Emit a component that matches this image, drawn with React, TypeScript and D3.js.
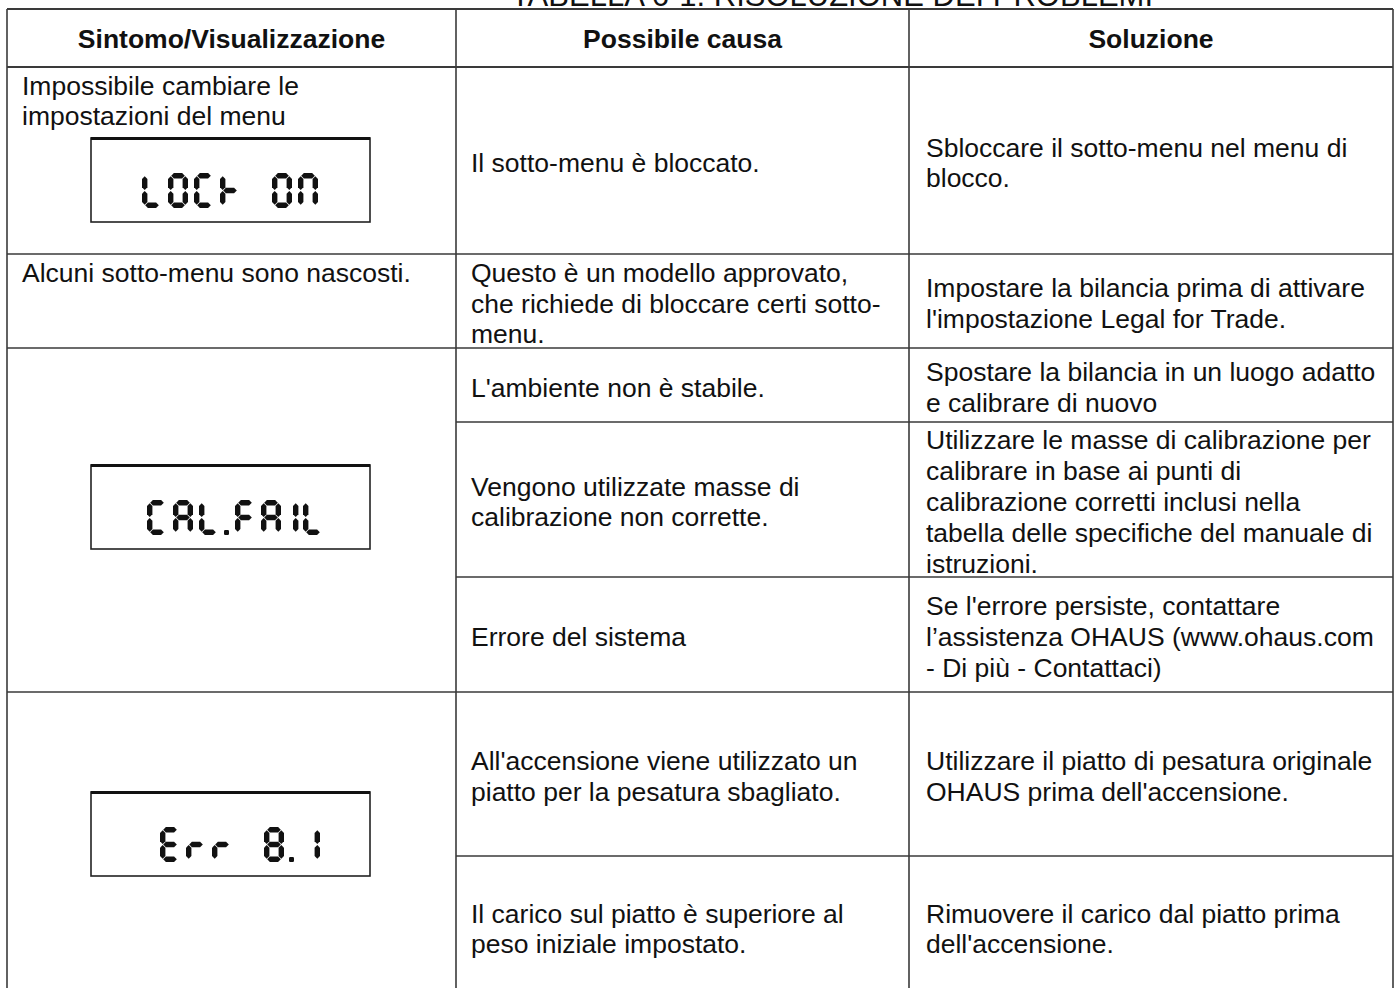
import React, { useEffect, useRef } from "react";
import * as d3 from "d3";

// ---- table content ----
const title = "TABELLA 6-1. RISOLUZIONE DEI PROBLEMI";
const headers = ["Sintomo/Visualizzazione", "Possibile causa", "Soluzione"];

const symptoms = [
  ["Impossibile cambiare le", "impostazioni del menu"],
  ["Alcuni sotto-menu sono nascosti."],
  [],
  [],
];
const displays = ["LOCK ON", "", "CAL.FAIL", "Err 8.1"];

const causes = [
  [["Il sotto-menu è bloccato."]],
  [["Questo è un modello approvato,", "che richiede di bloccare certi sotto-", "menu."]],
  [
    ["L'ambiente non è stabile."],
    ["Vengono utilizzate masse di", "calibrazione non corrette."],
    ["Errore del sistema"],
  ],
  [
    ["All'accensione viene utilizzato un", "piatto per la pesatura sbagliato."],
    ["Il carico sul piatto è superiore al", "peso iniziale impostato."],
  ],
];

const solutions = [
  [["Sbloccare il sotto-menu nel menu di", "blocco."]],
  [["Impostare la bilancia prima di attivare", "l'impostazione Legal for Trade."]],
  [
    ["Spostare la bilancia in un luogo adatto", "e calibrare di nuovo"],
    [
      "Utilizzare le masse di calibrazione per",
      "calibrare in base ai punti di",
      "calibrazione corretti inclusi nella",
      "tabella delle specifiche del manuale di",
      "istruzioni.",
    ],
    ["Se l'errore persiste, contattare", "l’assistenza OHAUS (www.ohaus.com", "- Di più - Contattaci)"],
  ],
  [
    ["Utilizzare il piatto di pesatura originale", "OHAUS prima dell'accensione."],
    ["Rimuovere il carico dal piatto prima", "dell'accensione."],
  ],
];

// ---- layout ----
const W = 1398;
const H = 988;
const colEdges = [7, 456, 909, 1393];
const headTop = 9;
const headBottom = 67;
// sub-row edges for each group (columns 2 and 3)
const groupEdges = [
  [67, 254],
  [254, 348],
  [348, 422, 577, 692],
  [692, 856, 997],
];
const lcdTop = [138, 0, 465, 792];
const lcdBox = { x0: 91, x1: 370, h: 84 };

const FONT = "'Liberation Sans', Arial, Helvetica, sans-serif";
const FS = 26.5;
const LH = 30.8;
const LINE = "#3a3a3a";

// ---- seven segment glyphs ----
const GW = 20;
const GH = 35;
const GT = 5.4;
const GG = 0.5;

const hSeg = (x0: number, x1: number, y: number) =>
  [
    [x0, y],
    [x0 + GT / 2, y - GT / 2],
    [x1 - GT / 2, y - GT / 2],
    [x1, y],
    [x1 - GT / 2, y + GT / 2],
    [x0 + GT / 2, y + GT / 2],
  ];
const vSeg = (x: number, y0: number, y1: number) =>
  [
    [x, y0],
    [x + GT / 2, y0 + GT / 2],
    [x + GT / 2, y1 - GT / 2],
    [x, y1],
    [x - GT / 2, y1 - GT / 2],
    [x - GT / 2, y0 + GT / 2],
  ];

const SEGS: Record<string, number[][]> = {
  a: hSeg(GT / 2 + GG, GW - GT / 2 - GG, GT / 2),
  g: hSeg(GT / 2 + GG, GW - GT / 2 - GG, GH / 2),
  d: hSeg(GT / 2 + GG, GW - GT / 2 - GG, GH - GT / 2),
  f: vSeg(GT / 2, GT / 2 + GG, GH / 2 - GG),
  e: vSeg(GT / 2, GH / 2 + GG, GH - GT / 2 - GG),
  b: vSeg(GW - GT / 2, GT / 2 + GG, GH / 2 - GG),
  c: vSeg(GW - GT / 2, GH / 2 + GG, GH - GT / 2 - GG),
};

const GLYPHS: Record<string, string> = {
  L: "def",
  O: "abcdef",
  C: "adef",
  K: "efg",
  N: "abcef",
  A: "abcefg",
  F: "aefg",
  I: "ef",
  E: "adefg",
  r: "eg",
  "8": "abcdefg",
  "1": "bc",
  " ": "",
};

const advanceOf = (ch: string) => (ch === "." ? 10 : ch === "I" ? 16 : 26);
const lcdStart = [142, 0, 147, 160];

const App = () => {
  const svgRef = useRef<SVGSVGElement | null>(null);

  useEffect(() => {
    const svg = d3.select(svgRef.current);
    svg.selectAll("*").remove();
    svg.attr("width", W).attr("height", H);

    svg.append("rect").attr("width", W).attr("height", H).attr("fill", "#fff");

    const g = svg.append("g").attr("font-family", FONT).attr("fill", "#111");

    // title (cut at top edge, as in the source page)
    g.append("text")
      .attr("x", 832)
      .attr("y", 6)
      .attr("text-anchor", "middle")
      .attr("font-size", 31)
      .text(title);

    const tableBottom = 997;
    const lines = g.append("g").attr("stroke", LINE).attr("stroke-width", 1.6).attr("fill", "none");

    // outer + column lines
    colEdges.forEach((x) => {
      lines.append("line").attr("x1", x).attr("x2", x).attr("y1", headTop).attr("y2", tableBottom);
    });
    lines.append("line").attr("x1", colEdges[0]).attr("x2", colEdges[3]).attr("y1", headTop).attr("y2", headTop).attr("stroke-width", 2.2);
    lines.append("line").attr("x1", colEdges[0]).attr("x2", colEdges[3]).attr("y1", headBottom).attr("y2", headBottom).attr("stroke-width", 2);

    // group and sub-row lines
    groupEdges.forEach((edges) => {
      const last = edges[edges.length - 1];
      lines.append("line").attr("x1", colEdges[0]).attr("x2", colEdges[3]).attr("y1", last).attr("y2", last);
      edges.slice(1, -1).forEach((y) => {
        lines.append("line").attr("x1", colEdges[1]).attr("x2", colEdges[3]).attr("y1", y).attr("y2", y);
      });
    });

    // headers
    headers.forEach((h, i) => {
      g.append("text")
        .attr("x", (colEdges[i] + colEdges[i + 1]) / 2)
        .attr("y", (headTop + headBottom) / 2 + 9.5)
        .attr("text-anchor", "middle")
        .attr("font-size", FS)
        .attr("font-weight", "bold")
        .text(h);
    });

    const centered = (x: number, y0: number, y1: number, ls: string[]) => {
      const c = (y0 + y1) / 2 + 2;
      ls.forEach((t, i) => {
        g.append("text")
          .attr("x", x)
          .attr("y", c + (i - (ls.length - 1) / 2) * LH + 9.5)
          .attr("font-size", FS)
          .text(t);
      });
    };

    groupEdges.forEach((edges, gi) => {
      // symptom text, top aligned
      symptoms[gi].forEach((t, i) => {
        g.append("text")
          .attr("x", colEdges[0] + 15)
          .attr("y", edges[0] + 18 + i * LH + 9.5)
          .attr("font-size", FS)
          .text(t);
      });
      causes[gi].forEach((ls, si) => centered(colEdges[1] + 15, edges[si], edges[si + 1], ls));
      solutions[gi].forEach((ls, si) => centered(colEdges[2] + 17, edges[si], edges[si + 1], ls));

      // LCD display
      const txt = displays[gi];
      if (!txt) return;
      const top = lcdTop[gi];
      const box = g.append("g");
      box.append("rect")
        .attr("x", lcdBox.x0)
        .attr("y", top)
        .attr("width", lcdBox.x1 - lcdBox.x0)
        .attr("height", lcdBox.h)
        .attr("fill", "#fff")
        .attr("stroke", "#222")
        .attr("stroke-width", 1.6);
      box.append("line")
        .attr("x1", lcdBox.x0)
        .attr("x2", lcdBox.x1)
        .attr("y1", top + 0.5)
        .attr("y2", top + 0.5)
        .attr("stroke", "#111")
        .attr("stroke-width", 3);

      const chars = txt.split("");
      const offsets = d3.cumsum([0, ...chars.map(advanceOf)]);
      const glyphY = top + 35;
      chars.forEach((ch, ci) => {
        const x = lcdStart[gi] + offsets[ci];
        const cg = box.append("g").attr("transform", `translate(${x},${glyphY})`).attr("fill", "#111");
        if (ch === ".") {
          cg.append("rect").attr("x", -1).attr("y", GH - 5).attr("width", 5).attr("height", 5).attr("rx", 1.2);
          return;
        }
        const segs = (GLYPHS[ch] ?? "").split("");
        const shift = ch === "I" ? 6 : 0;
        segs.forEach((s) => {
          cg.append("polygon")
            .attr("points", SEGS[s].map((p) => `${p[0] + shift},${p[1]}`).join(" "));
        });
      });
    });
  }, []);

  return (
    <div style={{ position: "absolute", left: 0, top: 0 }}>
      <svg ref={svgRef} style={{ display: "block" }}></svg>
    </div>
  );
};

export default App;
